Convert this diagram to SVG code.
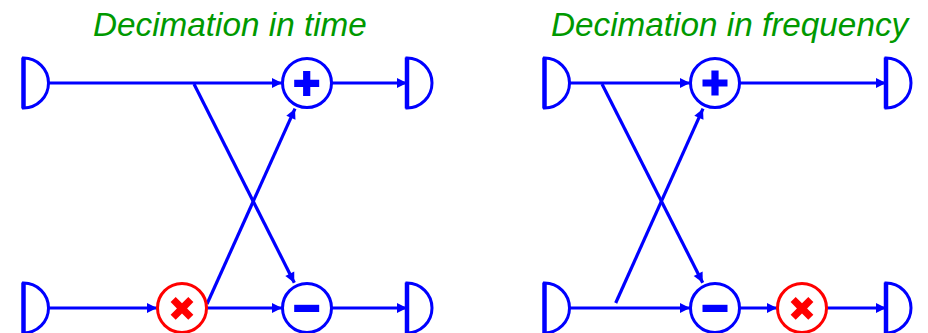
<svg xmlns="http://www.w3.org/2000/svg" width="928" height="333" viewBox="0 0 928 333">
<style>
.t{font-family:"Liberation Sans",Arial,sans-serif;font-style:italic;font-size:33.3px;fill:#009900}
.d{fill:#fff;stroke:#0000ff;stroke-width:3}
.b{stroke:#0000ff;stroke-width:4.5;fill:none}
.c{fill:#fff;stroke:#0000ff;stroke-width:3}
.r{fill:#fff;stroke:#ff0000;stroke-width:3}
.g{fill:#0000ff}
.x{fill:#ff0000}
.l{stroke:#0000ff;stroke-width:3.2;fill:none}
.h{fill:#0000ff}
</style>
<defs>
<g id="dly"><path class="d" d="M0 -25A25 25 0 0 1 0 25Z"/><path class="b" d="M0 -25.5V25.5"/></g>
<path id="plus" class="g" d="M-3.6 -12.5H3.6V-3.6H12.5V3.6H3.6V12.5H-3.6V3.6H-12.5V-3.6H-3.6Z"/>
<rect id="minus" class="g" x="-12.5" y="-3.6" width="25" height="7.2"/>
<path id="times" class="x" d="M-3.6 -12.5H3.6V-3.6H12.5V3.6H3.6V12.5H-3.6V3.6H-12.5V-3.6H-3.6Z" transform="rotate(45)"/>
<marker id="a" markerUnits="userSpaceOnUse" markerWidth="11" markerHeight="10" refX="10" refY="5" orient="auto" overflow="visible"><path class="h" d="M0 0L10 5L0 10Z"/></marker>
</defs>
<g id="connectors">
<path class="l" marker-end="url(#a)" d="M49 83H282"/>
<path class="l" marker-end="url(#a)" d="M332 83H407"/>
<path class="l" marker-end="url(#a)" d="M49 308H157"/>
<path class="l" marker-end="url(#a)" d="M207 308H282"/>
<path class="l" marker-end="url(#a)" d="M332 308H407"/>
<path class="l" marker-end="url(#a)" d="M194 84L294.3 282.7"/>
<path class="l" marker-end="url(#a)" d="M207 304L295 108.7"/>
<path class="l" marker-end="url(#a)" d="M569 83H690"/>
<path class="l" marker-end="url(#a)" d="M740 83H886"/>
<path class="l" marker-end="url(#a)" d="M569 308H690"/>
<path class="l" marker-end="url(#a)" d="M740 308H777"/>
<path class="l" marker-end="url(#a)" d="M827 308H886"/>
<path class="l" marker-end="url(#a)" d="M602 84L702.7 282.7"/>
<path class="l" marker-end="url(#a)" d="M615.7 303L703 108.7"/>
</g>
<text id="title-time" class="t" x="93" y="36">Decimation in time</text>
<text id="title-frequency" class="t" x="551" y="36">Decimation in frequency</text>
<g id="d1"><use href="#dly" x="23.5" y="83"/></g>
<g id="d2"><use href="#dly" x="23.5" y="308"/></g>
<g id="d3"><use href="#dly" x="407" y="83"/></g>
<g id="d4"><use href="#dly" x="407" y="308"/></g>
<g id="d5"><use href="#dly" x="544.5" y="83"/></g>
<g id="d6"><use href="#dly" x="544.5" y="308"/></g>
<g id="d7"><use href="#dly" x="886" y="83"/></g>
<g id="d8"><use href="#dly" x="886" y="308"/></g>
<g id="add1"><circle class="c" cx="307" cy="83" r="24.5"/><use href="#plus" x="306.7" y="83.4"/></g>
<g id="sub1"><circle class="c" cx="307" cy="308" r="24.5"/><use href="#minus" x="306.7" y="308.4"/></g>
<g id="mul1"><circle class="r" cx="182" cy="308" r="24.5"/><use href="#times" x="182" y="308.4"/></g>
<g id="add2"><circle class="c" cx="715" cy="83" r="24.5"/><use href="#plus" x="715" y="83"/></g>
<g id="sub2"><circle class="c" cx="715" cy="308" r="24.5"/><use href="#minus" x="715" y="308.4"/></g>
<g id="mul2"><circle class="r" cx="802" cy="308" r="24.5"/><use href="#times" x="802" y="308.4"/></g>
</svg>
